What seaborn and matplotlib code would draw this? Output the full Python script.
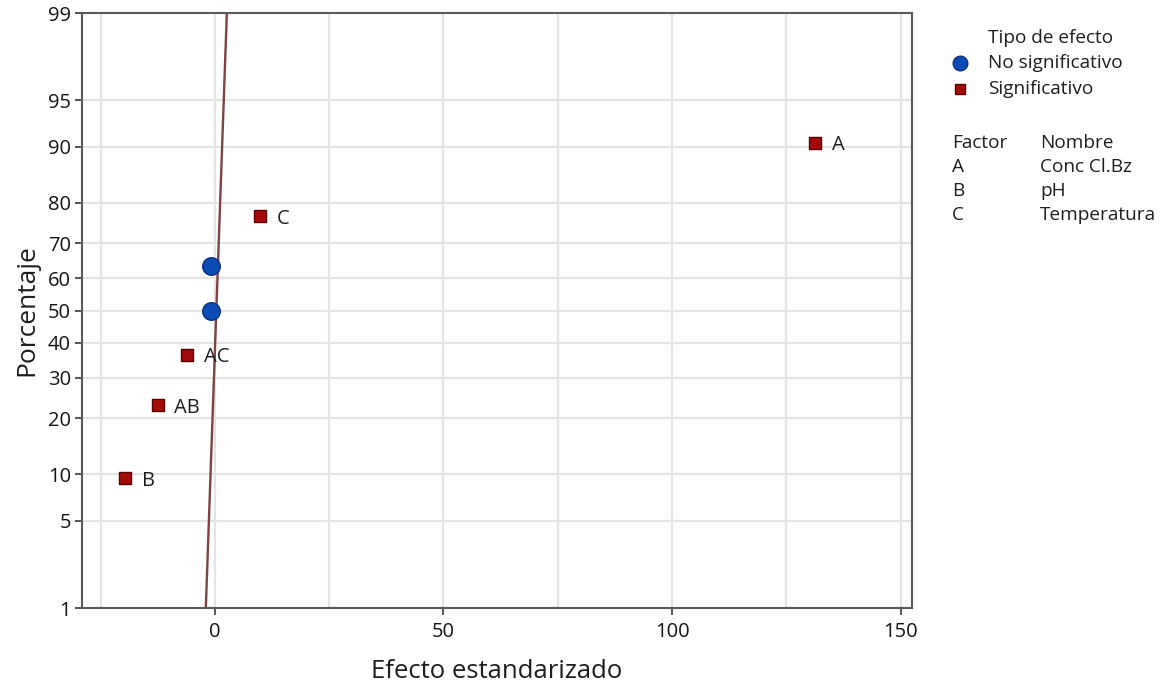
import numpy as np
import pandas as pd
import seaborn as sns
import matplotlib
matplotlib.use("Agg")
import matplotlib.pyplot as plt
from matplotlib.lines import Line2D
from matplotlib.ticker import FixedLocator, FixedFormatter
from statistics import NormalDist

# Standardized effects and their normal-probability plotting positions (%)
terms = ["B", "AB", "AC", "BC", "ABC", "C", "A"]
effects = [-19.7, -12.5, -6.1, -0.8, -0.8, 9.8, 131.3]
percent = [9.46, 22.97, 36.49, 50.0, 63.51, 77.03, 90.54]
effect_type = ["Significativo", "Significativo", "Significativo",
               "No significativo", "No significativo",
               "Significativo", "Significativo"]
show_label = [True, True, True, False, False, True, True]

# Reference line of the normal fit (effect at 1 % and 99 %)
line_effect = [-2.0, 2.6]
line_percent = [1.0, 99.0]

y_ticks = [1, 5, 10, 20, 30, 40, 50, 60, 70, 80, 90, 95, 99]
x_ticks = [0, 50, 100, 150]
x_grid = [-25, 0, 25, 50, 75, 100, 125, 150]

factors = ["A", "B", "C"]
factor_names = ["Conc Cl.Bz", "pH", "Temperatura"]

df = pd.DataFrame({"term": terms, "effect": effects, "percent": percent,
                   "type": effect_type, "label": show_label})

sns.set_theme(style="white")
plt.rcParams["font.family"] = ["Open Sans", "DejaVu Sans"]

fig = plt.figure(figsize=(11.64, 6.86), dpi=100)
ax = fig.add_axes([0.0704, 0.1137, 0.7131, 0.8673])

nd = NormalDist()
_fwd = np.vectorize(lambda p: nd.inv_cdf(min(max(p, 1e-6), 100 - 1e-6) / 100.0),
                    otypes=[float])
_inv = np.vectorize(lambda z: nd.cdf(z) * 100.0, otypes=[float])
ax.set_yscale("function", functions=(_fwd, _inv))

# grid
for g in x_grid:
    ax.axvline(g, color="#e4e4e4", lw=1.6, zorder=0)
for t in y_ticks[1:-1]:
    ax.axhline(t, color="#e4e4e4", lw=1.6, zorder=0)

sns.lineplot(x=line_effect, y=line_percent, ax=ax, color="#7d4242",
             lw=1.7, zorder=2, legend=False)

colors = {"No significativo": "#0a4bb5", "Significativo": "#a30a0a"}
edges = {"No significativo": "#08307a", "Significativo": "#5a0000"}
markers = {"No significativo": "o", "Significativo": "s"}
sizes = {"No significativo": 160, "Significativo": 85}
for kind in ["Significativo", "No significativo"]:
    sub = df[df["type"] == kind]
    sns.scatterplot(data=sub, x="effect", y="percent", ax=ax,
                    color=colors[kind], marker=markers[kind], s=sizes[kind],
                    edgecolor=edges[kind], linewidth=1.0, zorder=3, legend=False)

for _, r in df[df["label"]].iterrows():
    ax.annotate(r["term"], (r["effect"], r["percent"]), xytext=(12, -2),
                textcoords="offset points", ha="left", va="center",
                fontsize=14.5, color="#1e1e1e")

ax.set_xlim(-29.1, 152.5)
ax.set_ylim(1, 99)
ax.xaxis.set_major_locator(FixedLocator(x_ticks))
ax.yaxis.set_major_locator(FixedLocator(y_ticks))
ax.yaxis.set_major_formatter(FixedFormatter([str(t) for t in y_ticks]))
ax.yaxis.set_minor_locator(FixedLocator([]))
ax.tick_params(axis="both", which="major", direction="out", length=5,
               width=1.4, color="#555555", labelsize=14.5, labelcolor="#151515",
               left=True, bottom=True, pad=3)
ax.tick_params(axis="x", pad=5)
for s in ax.spines.values():
    s.set_color("#5a5a5a")
    s.set_linewidth(1.5)

ax.set_xlabel("Efecto estandarizado", fontsize=18.5, color="#1e1e1e", labelpad=12)
ax.set_ylabel("Porcentaje", fontsize=19, color="#1e1e1e", labelpad=6)

# legend panel on the right
W, H = 1164, 686
def fx(px):
    return px / W
def fy(py):
    return 1 - py / H

txt = dict(fontsize=13.7, color="#1e1e1e", va="center", ha="left")
fig.text(fx(988), fy(38), "Tipo de efecto", **txt)
for i, kind in enumerate(["No significativo", "Significativo"]):
    y = 63 + i * 26
    fig.text(fx(988), fy(y), kind, **txt)
    fig.lines.append(Line2D(
        [fx(960)], [fy(y)], transform=fig.transFigure,
        marker=markers[kind], markersize=10.5 if kind == "No significativo" else 7.5,
        markerfacecolor=colors[kind], markeredgecolor=edges[kind], ls="none"))

fig.text(fx(952), fy(143), "Factor", **txt)
fig.text(fx(1040), fy(143), "Nombre", **txt)
for i, (f, n) in enumerate(zip(factors, factor_names)):
    y = 167 + i * 24
    fig.text(fx(952), fy(y), f, **txt)
    fig.text(fx(1040), fy(y), n, **txt)

fig.savefig("out.png", dpi=100)
